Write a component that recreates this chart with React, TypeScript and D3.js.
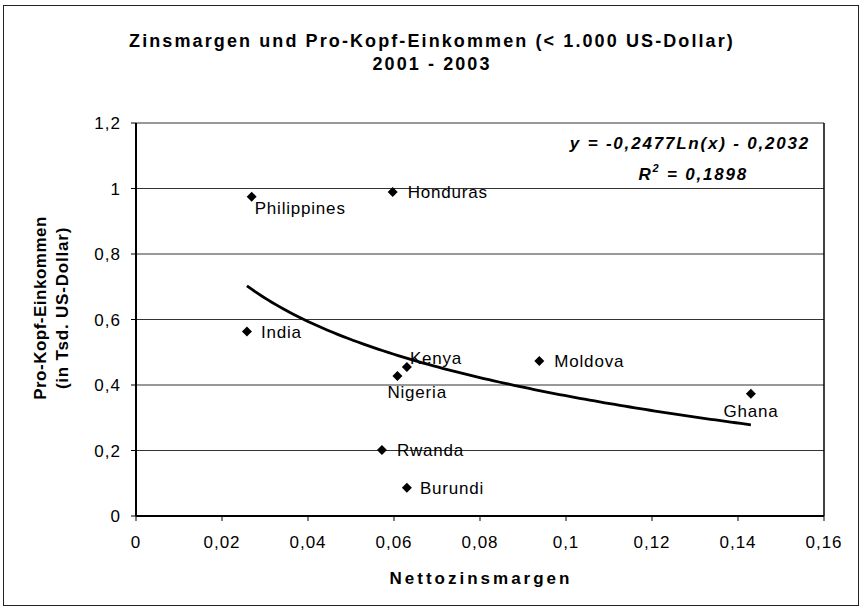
import React from 'react'
import * as d3 from 'd3'

const countries = ['Philippines', 'Honduras', 'India', 'Nigeria', 'Kenya', 'Rwanda', 'Burundi', 'Moldova', 'Ghana']
const margins = [0.0269, 0.0597, 0.0258, 0.0608, 0.063, 0.0572, 0.063, 0.0938, 0.143]
const incomes = [0.975, 0.989, 0.563, 0.4275, 0.455, 0.2015, 0.0865, 0.473, 0.373]
// label offsets in px relative to each point (dx, dy, anchor)
const labelPos: [number, number, string][] = [
  [3, 17, 'start'],
  [15, 6, 'start'],
  [14, 6, 'start'],
  [-10, 22, 'start'],
  [3, -3, 'start'],
  [15, 6, 'start'],
  [13, 6, 'start'],
  [15, 6, 'start'],
  [0, 23, 'middle'],
]
const xTicks = [0, 0.02, 0.04, 0.06, 0.08, 0.1, 0.12, 0.14, 0.16]
const yTicks = [0, 0.2, 0.4, 0.6, 0.8, 1, 1.2]
const trendA = -0.2477
const trendB = -0.2032

const fmt = (v: number) => String(v).replace('.', ',')

export default function App() {
  const W = 863, H = 611
  const left = 136, right = 824, top = 123, bottom = 516
  const x = d3.scaleLinear().domain([0, 0.16]).range([left, right])
  const y = d3.scaleLinear().domain([0, 1.2]).range([bottom, top])

  const xmin = d3.min(margins) as number
  const xmax = d3.max(margins) as number
  const trendPts = d3.range(0, 101).map(i => {
    const xv = xmin + (xmax - xmin) * i / 100
    return [xv, trendA * Math.log(xv) + trendB] as [number, number]
  })
  const line = d3.line<[number, number]>().x(d => x(d[0])).y(d => y(d[1]))

  const font = 'Arial, "Liberation Sans", sans-serif'
  const diamond = 'M0,-5L5,0L0,5L-5,0Z'
  const midY = 308

  return (
    <svg width={W} height={H} style={{ position: 'absolute', left: 0, top: 0 }} fontFamily={font}>
      <rect x={0} y={0} width={W} height={H} fill="#fff" />
      <rect x={3.5} y={5.5} width={855} height={600} fill="none" stroke="#222" strokeWidth={1} />
      <text x={432} y={47} textAnchor="middle" fontSize={18} fontWeight="bold" letterSpacing={2.1}>
        Zinsmargen und Pro-Kopf-Einkommen (&lt; 1.000 US-Dollar)
      </text>
      <text x={432} y={70} textAnchor="middle" fontSize={18} fontWeight="bold" letterSpacing={2.1}>
        2001 - 2003
      </text>

      {yTicks.map(t => (
        <g key={t}>
          {t > 0 && <line x1={left} x2={right} y1={y(t)} y2={y(t)} stroke="#333" strokeWidth={1} />}
          <line x1={left - 5} x2={left} y1={y(t)} y2={y(t)} stroke="#000" />
          <text x={left - 15} y={y(t) + 6} textAnchor="end" fontSize={17} letterSpacing={1}>{fmt(t)}</text>
        </g>
      ))}
      {xTicks.map(t => (
        <g key={t}>
          <line x1={x(t)} x2={x(t)} y1={bottom} y2={bottom + 5} stroke="#000" />
          <text x={x(t)} y={bottom + 32} textAnchor="middle" fontSize={17} letterSpacing={1}>{fmt(t)}</text>
        </g>
      ))}
      <line x1={right} x2={right} y1={top} y2={bottom} stroke="#000" strokeWidth={1.5} />
      <line x1={left} x2={left} y1={top} y2={bottom} stroke="#000" strokeWidth={2} />
      <line x1={left} x2={right} y1={bottom} y2={bottom} stroke="#000" strokeWidth={2} />

      <path d={line(trendPts) ?? ''} fill="none" stroke="#000" strokeWidth={2.8} />

      {countries.map((c, i) => (
        <g key={c}>
          <path d={diamond} transform={`translate(${x(margins[i])},${y(incomes[i])})`} fill="#000" />
          <text x={x(margins[i]) + labelPos[i][0]} y={y(incomes[i]) + labelPos[i][1]}
            textAnchor={labelPos[i][2]} fontSize={17} letterSpacing={0.8}>
            {c}
          </text>
        </g>
      ))}

      <text x={810} y={149} textAnchor="end" fontSize={17} fontStyle="italic" fontWeight="bold" letterSpacing={1.8}>
        y = -0,2477Ln(x) - 0,2032
      </text>
      <text x={748} y={180} textAnchor="end" fontSize={17} fontStyle="italic" fontWeight="bold" letterSpacing={1.8}>
        R<tspan dy={-8} fontSize={11}>2</tspan><tspan dy={8}> = 0,1898</tspan>
      </text>

      <text x={481} y={584} textAnchor="middle" fontSize={17} fontWeight="bold" letterSpacing={3}>
        Nettozinsmargen
      </text>
      <text transform={`translate(46,${midY}) rotate(-90)`} textAnchor="middle" fontSize={17} fontWeight="bold" letterSpacing={0.5}>
        Pro-Kopf-Einkommen
      </text>
      <text transform={`translate(68,${midY}) rotate(-90)`} textAnchor="middle" fontSize={17} fontWeight="bold" letterSpacing={0.8}>
        (in Tsd. US-Dollar)
      </text>
    </svg>
  )
}
